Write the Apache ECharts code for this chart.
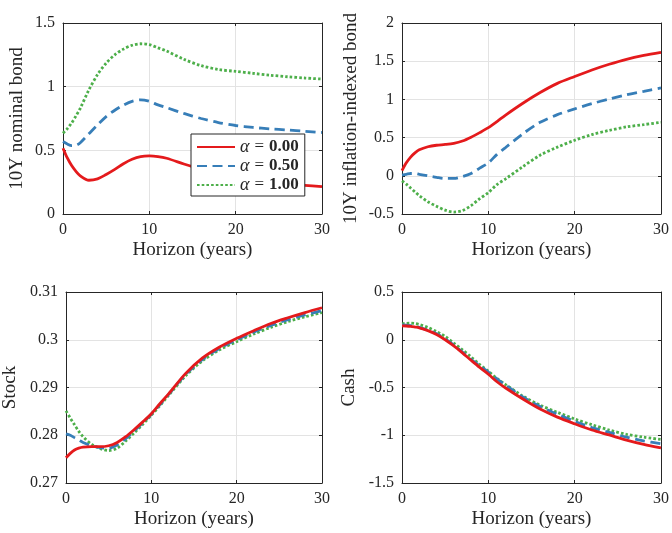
<!DOCTYPE html>
<html>
<head>
<meta charset="utf-8">
<script src="https://cdn.jsdelivr.net/npm/echarts@6/dist/echarts.min.js"></script>
<style>
html,body{margin:0;padding:0;background:#fff;}
#chart{width:672px;height:533px;}
</style>
</head>
<body>
<div id="chart"></div>
<script>
// ---- data ----
const horizon = [0, 0.5, 1, 1.5, 2, 3, 4, 5, 6, 7, 8, 9, 10, 11, 12, 14, 16, 18, 20, 22, 24, 26, 28, 30];
const seriesNames = ['α = 0.00', 'α = 0.50', 'α = 1.00'];
const panelTitles = ['10Y nominal bond', '10Y inflation-indexed bond', 'Stock', 'Cash'];
const xTicks = [0, 10, 20, 30];

const nominalA0 = [0.517, 0.44, 0.38, 0.335, 0.30, 0.265, 0.276, 0.31, 0.35, 0.395, 0.43, 0.451, 0.456, 0.451, 0.438, 0.393, 0.35, 0.31, 0.28, 0.26, 0.245, 0.235, 0.225, 0.215];
const nominalA05 = [0.569, 0.55, 0.537, 0.54, 0.56, 0.63, 0.70, 0.765, 0.815, 0.855, 0.885, 0.897, 0.885, 0.857, 0.835, 0.79, 0.75, 0.718, 0.695, 0.68, 0.668, 0.66, 0.65, 0.64];
const nominalA1 = [0.635, 0.67, 0.715, 0.77, 0.83, 0.975, 1.095, 1.185, 1.25, 1.295, 1.325, 1.337, 1.33, 1.305, 1.28, 1.215, 1.165, 1.135, 1.12, 1.105, 1.09, 1.078, 1.068, 1.06];

const indexedA0 = [0.068, 0.17, 0.245, 0.30, 0.34, 0.38, 0.40, 0.41, 0.425, 0.455, 0.505, 0.565, 0.63, 0.71, 0.795, 0.95, 1.09, 1.21, 1.30, 1.385, 1.46, 1.525, 1.575, 1.615];
const indexedA05 = [0.01, 0.02, 0.03, 0.03, 0.02, 0.0, -0.02, -0.035, -0.035, -0.01, 0.03, 0.10, 0.17, 0.28, 0.37, 0.55, 0.70, 0.80, 0.875, 0.945, 1.005, 1.06, 1.105, 1.15];
const indexedA1 = [-0.067, -0.11, -0.16, -0.21, -0.26, -0.34, -0.40, -0.45, -0.475, -0.455, -0.39, -0.30, -0.22, -0.115, -0.04, 0.12, 0.27, 0.375, 0.465, 0.54, 0.595, 0.64, 0.67, 0.70];

const stockA0 = [0.2753, 0.2762, 0.2769, 0.2773, 0.2775, 0.2776, 0.2776, 0.2778, 0.2785, 0.2797, 0.2812, 0.2828, 0.2845, 0.2866, 0.2886, 0.2929, 0.2962, 0.2985, 0.3003, 0.3019, 0.3034, 0.3046, 0.3057, 0.3067];
const stockA05 = [0.2803, 0.2800, 0.2795, 0.2790, 0.2785, 0.2778, 0.2774, 0.2773, 0.2780, 0.2793, 0.2809, 0.2826, 0.2844, 0.2864, 0.2885, 0.2927, 0.2959, 0.2982, 0.3000, 0.3016, 0.3030, 0.3042, 0.3052, 0.3061];
const stockA1 = [0.2851, 0.2836, 0.2822, 0.2808, 0.2797, 0.2781, 0.2772, 0.2768, 0.2773, 0.2788, 0.2805, 0.2823, 0.2842, 0.2862, 0.2883, 0.2924, 0.2956, 0.2979, 0.2996, 0.3012, 0.3026, 0.3038, 0.3048, 0.3057];

const cashA0 = [0.146, 0.144, 0.14, 0.133, 0.125, 0.095, 0.055, 0.0, -0.065, -0.138, -0.215, -0.29, -0.36, -0.44, -0.505, -0.62, -0.725, -0.81, -0.88, -0.945, -0.997, -1.05, -1.095, -1.132];
const cashA05 = [0.155, 0.153, 0.148, 0.14, 0.13, 0.10, 0.063, 0.01, -0.055, -0.13, -0.205, -0.27, -0.34, -0.41, -0.475, -0.60, -0.70, -0.78, -0.855, -0.92, -0.97, -1.02, -1.06, -1.088];
const cashA1 = [0.167, 0.172, 0.174, 0.17, 0.16, 0.13, 0.085, 0.035, -0.035, -0.105, -0.18, -0.26, -0.33, -0.405, -0.47, -0.59, -0.685, -0.76, -0.83, -0.89, -0.945, -0.99, -1.02, -1.045];

const yRanges = [[0, 1.5, 0.5], [-0.5, 2, 0.5], [0.27, 0.31, 0.01], [-1.5, 0.5, 0.5]];
const panelData = [
  [nominalA0, nominalA05, nominalA1],
  [indexedA0, indexedA05, indexedA1],
  [stockA0, stockA05, stockA1],
  [cashA0, cashA05, cashA1]
];

// ---- styling ----
const FONT = 'Liberation Serif';
const INK = '#262626';
const GRIDC = '#e3e3e3';
const colors = ['#e41a1c', '#377eb8', '#4daf4a'];
const lineTypes = ['solid', [10, 5.5], [2.6, 2.1]];
const grids = [
  {left: 63, top: 23, width: 259, height: 191},
  {left: 402, top: 23, width: 259, height: 191},
  {left: 63, top: 292, width: 259, height: 191},
  {left: 402, top: 292, width: 259, height: 191}
];
const yNameGaps = [36, 41, 46, 43];

const chart = echarts.init(document.getElementById('chart'), null, {renderer: 'canvas'});

const xAxes = [], yAxes = [], series = [];
grids.forEach((g, i) => {
  const [ymin, ymax, yint] = yRanges[i];
  xAxes.push({
    type: 'value', gridIndex: i, min: 0, max: 30, interval: 10, position: 'bottom',
    name: 'Horizon (years)', nameLocation: 'middle', nameGap: 27,
    nameTextStyle: {fontFamily: FONT, fontSize: 19, color: INK},
    axisLine: {show: true, onZero: false, lineStyle: {color: INK, width: 1}},
    axisTick: {show: true, inside: true, length: 3, lineStyle: {color: INK}},
    axisLabel: {fontFamily: FONT, fontSize: 16, color: INK, margin: 8},
    splitLine: {show: true, lineStyle: {color: GRIDC, width: 1}}
  });
  xAxes.push({
    type: 'value', gridIndex: i, min: 0, max: 30, interval: 10, position: 'top',
    axisLine: {show: true, onZero: false, lineStyle: {color: INK, width: 1}},
    axisTick: {show: true, inside: true, length: 3, lineStyle: {color: INK}},
    axisLabel: {show: false}, splitLine: {show: false}
  });
  yAxes.push({
    type: 'value', gridIndex: i, min: ymin, max: ymax, interval: yint, position: 'left',
    name: panelTitles[i], nameLocation: 'middle', nameGap: yNameGaps[i], nameRotate: 90,
    nameTextStyle: {fontFamily: FONT, fontSize: 19, color: INK},
    axisLine: {show: true, onZero: false, lineStyle: {color: INK, width: 1}},
    axisTick: {show: true, inside: true, length: 3, lineStyle: {color: INK}},
    axisLabel: {fontFamily: FONT, fontSize: 16, color: INK, margin: 8},
    splitLine: {show: true, lineStyle: {color: GRIDC, width: 1}}
  });
  yAxes.push({
    type: 'value', gridIndex: i, min: ymin, max: ymax, interval: yint, position: 'right',
    axisLine: {show: true, onZero: false, lineStyle: {color: INK, width: 1}},
    axisTick: {show: true, inside: true, length: 3, lineStyle: {color: INK}},
    axisLabel: {show: false}, splitLine: {show: false}
  });
  panelData[i].forEach((vals, k) => {
    series.push({
      name: seriesNames[k], type: 'line', xAxisIndex: 2 * i, yAxisIndex: 2 * i,
      data: horizon.map((h, j) => [h, vals[j]]),
      smooth: 0.3, symbol: 'none', clip: true, z: 3 + (2 - k),
      lineStyle: {color: colors[k], width: 2.8, type: lineTypes[k], cap: 'butt'},
      itemStyle: {color: colors[k]}
    });
  });
});

chart.setOption({
  animation: false,
  backgroundColor: '#fff',
  grid: grids.map(g => Object.assign({containLabel: false}, g)),
  xAxis: xAxes,
  yAxis: yAxes,
  series: series,
  legend: {
    z: 20,
    data: seriesNames, orient: 'vertical', left: 191, top: 134,
    padding: [4, 6, 2, 5], itemGap: 1, itemWidth: 38, itemHeight: 14,
    backgroundColor: '#fff', borderColor: INK, borderWidth: 1,
    selectedMode: false,
    itemStyle: {opacity: 0, borderWidth: 0},
    formatter: (name) => {
      const num = name.split('= ')[1];
      return '{a|α}{e|=}{b|' + num + '}';
    },
    textStyle: {
      fontFamily: FONT, fontSize: 16, color: INK, lineHeight: 14,
      rich: {
        a: {fontFamily: FONT, fontStyle: 'italic', fontSize: 18, color: INK, lineHeight: 14},
        e: {fontFamily: FONT, fontSize: 17, color: INK, lineHeight: 14, padding: [0, 5, 0, 5]},
        b: {fontFamily: FONT, fontWeight: 'bold', fontSize: 17, color: INK, lineHeight: 14}
      }
    }
  }
});
</script>
</body>
</html>
